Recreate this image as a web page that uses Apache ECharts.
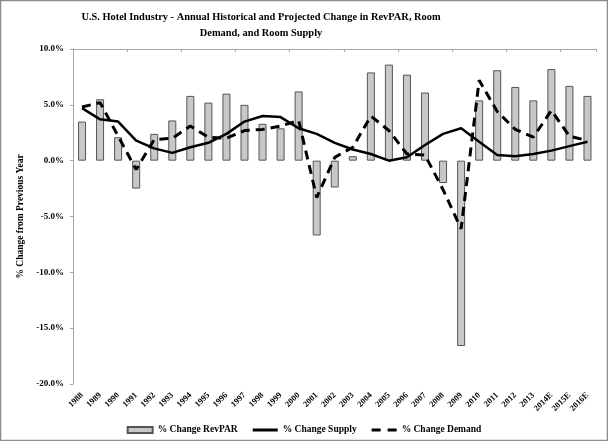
<!DOCTYPE html>
<html><head><meta charset="utf-8">
<script src="https://cdn.jsdelivr.net/npm/echarts@6/dist/echarts.min.js"></script>
<style>html,body{margin:0;padding:0;background:#fff;}#c{width:608px;height:441px;}</style>
</head><body><div id="c"></div>
<script>
var years = ['1988','1989','1990','1991','1992','1993','1994','1995','1996','1997','1998','1999','2000','2001','2002','2003','2004','2005','2006','2007','2008','2009','2010','2011','2012','2013','2014E','2015E','2016E'];
var revpar = [3.5,5.5,2.1,-2.5,2.4,3.6,5.8,5.2,6.0,5.0,3.3,2.9,6.2,-6.7,-2.4,0.4,7.9,8.6,7.7,6.1,-2.0,-16.6,5.4,8.1,6.6,5.4,8.2,6.7,5.8];
var supply = [4.7,3.7,3.5,1.8,1.1,0.7,1.2,1.6,2.4,3.5,4.0,3.9,2.9,2.4,1.6,1.0,0.6,0.0,0.3,1.4,2.4,2.9,1.7,0.5,0.4,0.6,0.9,1.3,1.7];
var demand = [4.8,5.2,2.2,-0.8,1.9,2.0,3.1,2.1,2.0,2.7,2.8,3.1,3.6,-3.3,0.3,1.2,4.0,2.7,0.6,0.5,-2.6,-6.1,7.2,4.4,2.8,2.1,4.5,2.2,1.8];
var yTicks = {min:-20, max:10, interval:5};

var FONT = '"Liberation Serif","Times New Roman",serif';
var chart = echarts.init(document.getElementById('c'));
chart.setOption({
  animation:false,
  backgroundColor:'#fff',
  graphic:[
    {type:'rect', shape:{x:0.5,y:0.5,width:607,height:440}, style:{fill:'none', stroke:'#8c8c8c', lineWidth:1.5}, silent:true},
    {type:'text', x:261, y:9, style:{text:'U.S. Hotel Industry - Annual Historical and Projected Change in RevPAR, Room\nDemand, and Room Supply', textAlign:'center', fontFamily:FONT, fontWeight:'bold', fontSize:10.4, lineHeight:16, fill:'#000'}}
  ],
  grid:{left:73, right:11.5, top:49, bottom:57, containLabel:false},
  legend:{
    bottom:1, left:'center', itemWidth:25, itemHeight:6, itemGap:15,
    textStyle:{fontFamily:FONT, fontWeight:'bold', fontSize:9.5, color:'#000'},
    data:[
      {name:'% Change RevPAR', icon:'rect'},
      {name:'% Change Supply', icon:'path://M0,0h25v3h-25z', itemStyle:{color:'#000', borderWidth:0}},
      {name:'% Change Demand', icon:'path://M0,0h9v3h-9zM16,0h9v3h-9z', itemStyle:{color:'#000', borderWidth:0}}
    ]
  },
  xAxis:[
    {type:'category', data:years, position:'bottom', axisLine:{show:false}, axisTick:{show:false},
     axisLabel:{rotate:45, margin:10, interval:0, fontFamily:FONT, fontWeight:'bold', fontSize:8.5, color:'#000'}},
    {type:'category', data:years, position:'top', axisLine:{show:true, onZero:true, lineStyle:{color:'#a6a6a6', width:1}},
     axisTick:{show:true, inside:true, length:3, lineStyle:{color:'#a6a6a6'}}, axisLabel:{show:false}}
  ],
  yAxis:{type:'value', min:yTicks.min, max:yTicks.max, interval:yTicks.interval,
    name:'% Change from Previous Year', nameLocation:'middle', nameGap:45, nameRotate:90,
    nameTextStyle:{fontFamily:FONT, fontWeight:'bold', fontSize:9.5, color:'#000'},
    axisLine:{show:true, lineStyle:{color:'#a6a6a6'}}, axisTick:{show:true, length:3, lineStyle:{color:'#a6a6a6'}},
    splitLine:{show:false},
    axisLabel:{margin:9, fontFamily:FONT, fontWeight:'bold', fontSize:9, color:'#000', formatter:function(v){return v.toFixed(1)+'%';}}
  },
  series:[
    {name:'% Change RevPAR', type:'bar', xAxisIndex:1, data:revpar, barWidth:8,
     itemStyle:{color:'#c8c8c8', borderColor:'#555', borderWidth:1}},
    {name:'% Change Supply', type:'line', xAxisIndex:1, data:supply, symbol:'none', showSymbol:false,
     lineStyle:{color:'#000', width:2.5}, itemStyle:{color:'#000'}},
    {name:'% Change Demand', type:'line', xAxisIndex:1, data:demand, symbol:'none', showSymbol:false,
     lineStyle:{color:'#000', width:3, type:[9,6]}, itemStyle:{color:'#000'}}
  ]
});
</script></body></html>
